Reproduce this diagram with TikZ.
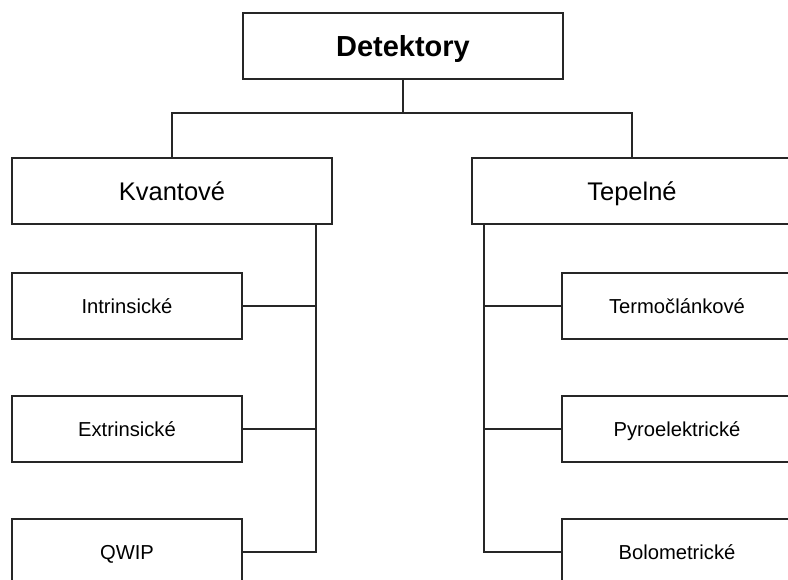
\documentclass[tikz,border=0pt]{standalone}
\usepackage{fontspec}
\setmainfont{Liberation Sans}
\begin{document}
\begin{tikzpicture}[x=1pt,y=-1pt,
  line width=2pt,
  box/.style={draw=black!85, fill=white, line width=2pt, inner sep=0pt, text depth=0pt},
  topbox/.style={box, minimum width=320pt, minimum height=66pt, text height=20.8pt,
    font=\fontsize{29}{33}\selectfont\bfseries},
  groupbox/.style={box, minimum width=320pt, minimum height=66pt, text height=18.3pt,
    font=\fontsize{25.5}{30}\selectfont},
  leafbox/.style={box, minimum width=230pt, minimum height=66pt, text height=14.5pt,
    font=\fontsize{20.2}{24}\selectfont},
  link/.style={draw=black!85, line width=2pt}]
\useasboundingbox (0,0) rectangle (788,579);
\clip (0,0) rectangle (788,579);

% root
\node[topbox] (det) at (403,46) {Detektory};

% two groups
\node[groupbox] (kv) at (172,191) {Kvantové};
\node[groupbox] (tp) at (632,191) {Tepelné};

% leaves of the left group
\node[leafbox] (in) at (127,306) {Intrinsické};
\node[leafbox] (ex) at (127,429) {Extrinsické};
\node[leafbox] (qw) at (127,552) {QWIP};

% leaves of the right group
\node[leafbox] (tc) at (677,306) {Termočlánkové};
\node[leafbox] (py) at (677,429) {Pyroelektrické};
\node[leafbox] (bo) at (677,552) {Bolometrické};

% bus lines
\coordinate (bus) at (403,113);
\coordinate (lrail) at (316,0);
\coordinate (rrail) at (484,0);

% root to groups
\draw[link] (det.south) -- (bus);
\draw[link] (kv.north) |- (bus) -| (tp.north);

% left group
\draw[link] (kv.south -| lrail) |- (qw.east);
\draw[link] (in.east) -- (in.east -| lrail);
\draw[link] (ex.east) -- (ex.east -| lrail);

% right group
\draw[link] (tp.south -| rrail) |- (bo.west);
\draw[link] (tc.west) -- (tc.west -| rrail);
\draw[link] (py.west) -- (py.west -| rrail);
\end{tikzpicture}
\end{document}
